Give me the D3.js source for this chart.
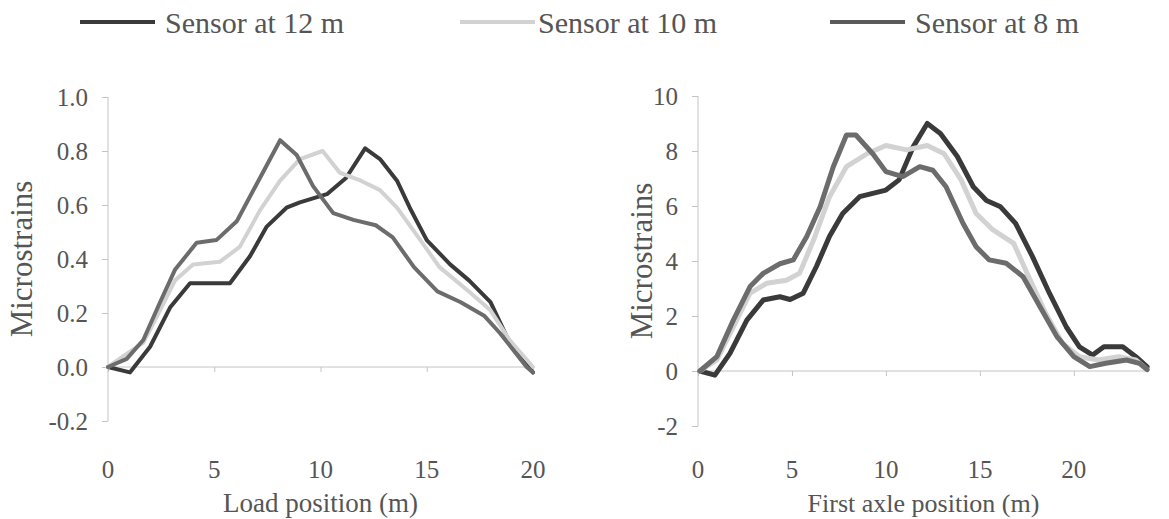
<!DOCTYPE html>
<html><head><meta charset="utf-8">
<script src="https://cdn.jsdelivr.net/npm/d3@7"></script>
<style>
html,body{margin:0;padding:0;background:#fff;}
</style></head>
<body><svg id="c" width="1169" height="519"></svg>
<script>
const FONT = "Liberation Serif";
const seriesNames = ["Sensor at 12 m", "Sensor at 10 m", "Sensor at 8 m"];
const seriesColors = ["#3a3a3a", "#d2d2d2", "#6c6c6c"];

// Left panel: load position (m) vs microstrains
const left12 = [[0,0],[1.03,-0.02],[1.98,0.075],[2.92,0.22],[3.86,0.31],[5.74,0.31],[6.68,0.41],[7.47,0.52],[8.4,0.59],[9.03,0.61],[10.3,0.64],[11.2,0.70],[12.1,0.81],[12.8,0.77],[13.6,0.69],[14.2,0.59],[15.0,0.47],[16.1,0.38],[17.0,0.32],[18.0,0.24],[18.9,0.09],[20,-0.02]];
const left10 = [[0,0],[0.72,0.04],[1.66,0.09],[2.45,0.21],[3.15,0.32],[4.0,0.38],[5.27,0.39],[6.2,0.445],[7.15,0.58],[8.1,0.69],[9.03,0.77],[10.1,0.80],[10.9,0.72],[11.9,0.69],[12.8,0.655],[13.6,0.59],[14.7,0.47],[15.6,0.37],[16.9,0.285],[18.0,0.21],[18.9,0.10],[20,0]];
const left8 = [[0,0],[0.88,0.03],[1.66,0.10],[2.45,0.24],[3.15,0.36],[4.17,0.46],[5.1,0.47],[6.06,0.54],[7.15,0.70],[8.1,0.84],[8.88,0.785],[9.65,0.67],[10.6,0.57],[11.55,0.545],[12.6,0.525],[13.4,0.48],[14.4,0.37],[15.5,0.28],[16.6,0.24],[17.7,0.19],[18.45,0.125],[19.7,0.0],[20,-0.02]];

// Right panel: first axle position (m) vs microstrains
const right12 = [[0.1,0],[0.9,-0.15],[1.7,0.64],[2.6,1.85],[3.47,2.58],[4.36,2.7],[4.9,2.6],[5.6,2.83],[6.3,3.8],[7.0,4.9],[7.7,5.73],[8.6,6.34],[9.3,6.46],[10.0,6.58],[10.7,6.95],[11.45,8.15],[12.2,9.0],[12.9,8.64],[13.8,7.8],[14.65,6.7],[15.35,6.2],[16.1,5.97],[16.9,5.37],[17.8,4.16],[18.7,2.83],[19.6,1.6],[20.3,0.88],[21.0,0.58],[21.6,0.88],[22.6,0.88],[23.3,0.52],[23.9,0.15]];
const right10 = [[0.1,0],[1.0,0.4],[1.88,1.6],[2.77,2.83],[3.65,3.19],[4.7,3.3],[5.4,3.55],[6.15,4.76],[7.0,6.34],[7.9,7.43],[9.0,7.9],[10.0,8.2],[11.1,8.04],[12.2,8.2],[13.1,7.9],[14.0,6.95],[14.8,5.73],[15.7,5.13],[16.8,4.64],[17.6,3.43],[18.5,2.1],[19.4,1.0],[20.3,0.52],[21.3,0.4],[22.4,0.52],[23.3,0.4],[23.9,0.05]];
const right8 = [[0.1,0],[1.0,0.52],[1.88,1.85],[2.77,3.07],[3.47,3.55],[4.36,3.9],[5.07,4.04],[5.78,4.88],[6.5,5.97],[7.2,7.43],[7.9,8.58],[8.4,8.58],[9.3,7.9],[10.0,7.25],[10.9,7.07],[11.8,7.43],[12.5,7.3],[13.2,6.7],[14.1,5.37],[14.8,4.52],[15.5,4.04],[16.4,3.92],[17.3,3.43],[18.2,2.34],[19.1,1.25],[20.0,0.52],[20.85,0.16],[21.7,0.28],[22.8,0.4],[23.5,0.28],[23.9,0.05]];

const leftXTicks = [0,5,10,15,20];
const leftYTicks = [-0.2,0.0,0.2,0.4,0.6,0.8,1.0];
const rightXTicks = [0,5,10,15,20];
const rightYTicks = [-2,0,2,4,6,8,10];

const svg = d3.select("#c");

function panel(cfg){
  const x = d3.scaleLinear().domain(cfg.xDomain).range([cfg.x0, cfg.x1]);
  const y = d3.scaleLinear().domain(cfg.yDomain).range([cfg.y1, cfg.y0]);
  const g = svg.append("g");
  const axisColor = "#c4c4c4";
  const ya = g.append("g").attr("transform", `translate(${cfg.x0},0)`)
    .call(d3.axisLeft(y).tickValues(cfg.yTicks).tickFormat(cfg.yFmt).tickSize(6).tickPadding(14));
  ya.attr("font-family", FONT);
  ya.select(".domain").attr("stroke", axisColor).attr("d", `M0,${y(cfg.yDomain[0])}V${y(cfg.yDomain[1])}`);
  ya.selectAll(".tick line").attr("stroke", axisColor);
  ya.selectAll(".tick text").attr("font-family", FONT).attr("font-size", 25).attr("fill","#555");
  const xa = g.append("g").attr("transform", `translate(0,${y(0)})`)
    .call(d3.axisBottom(x).tickValues(cfg.xTicks).tickFormat(d3.format("d")).tickSize(5));
  xa.select(".domain").attr("stroke", axisColor).attr("d", `M${cfg.x0},0H${cfg.x1}`);
  xa.selectAll(".tick line").attr("stroke", axisColor);
  xa.selectAll(".tick text").remove();
  g.selectAll(".xl").data(cfg.xTicks).enter().append("text")
    .attr("x", d => x(d)).attr("y", 478).attr("text-anchor","middle")
    .attr("font-family", FONT).attr("font-size", 25).attr("fill","#555").text(d => d);
  g.append("text").attr("x", (cfg.x0+cfg.x1)/2).attr("y", 512).attr("text-anchor","middle")
    .attr("font-family", FONT).attr("font-size", cfg.xtSize).attr("fill","#555").text(cfg.xTitle);
  g.append("text").attr("transform", `translate(${cfg.yTitleX},${(cfg.y0+cfg.y1)/2}) rotate(-90)`)
    .attr("text-anchor","middle").attr("dy","0.35em")
    .attr("font-family", FONT).attr("font-size", 31).attr("fill","#555").text("Microstrains");
  const line = d3.line().x(d => x(d[0])).y(d => y(d[1]));
  cfg.series.forEach((s, i) => {
    g.append("path").datum(s).attr("d", line).attr("fill","none")
      .attr("stroke", seriesColors[i]).attr("stroke-width", cfg.sw)
      .attr("stroke-linejoin","round").attr("stroke-linecap","round");
  });
}

const hyphen = f => d => f(d).replace("\u2212", "-");
panel({xDomain:[0,20], yDomain:[-0.2,1.0], x0:108, x1:533, y0:97, y1:421,
  xTicks:leftXTicks, yTicks:leftYTicks, yFmt:hyphen(d3.format(".1f")), sw:4, xtSize:27,
  xTitle:"Load position (m)", yTitleX:21, series:[left12,left10,left8]});
panel({xDomain:[0,24], yDomain:[-2,10], x0:698, x1:1149, y0:96, y1:426,
  xTicks:rightXTicks, yTicks:rightYTicks, yFmt:hyphen(d3.format("d")), sw:5, xtSize:26,
  xTitle:"First axle position (m)", yTitleX:641, series:[right12,right10,right8]});

const legendX = [80, 460, 830];
const leg = svg.append("g");
seriesNames.forEach((n, i) => {
  leg.append("line").attr("x1", legendX[i]).attr("x2", legendX[i]+75).attr("y1", 22).attr("y2", 22)
    .attr("stroke", i===2 ? "#5a5a5a" : seriesColors[i]).attr("stroke-width", 4);
  leg.append("text").attr("x", legendX[i]+ (i===1?78:85)).attr("y", 33)
    .attr("font-family", FONT).attr("font-size", 30).attr("fill","#555").text(n);
});
</script></body></html>
